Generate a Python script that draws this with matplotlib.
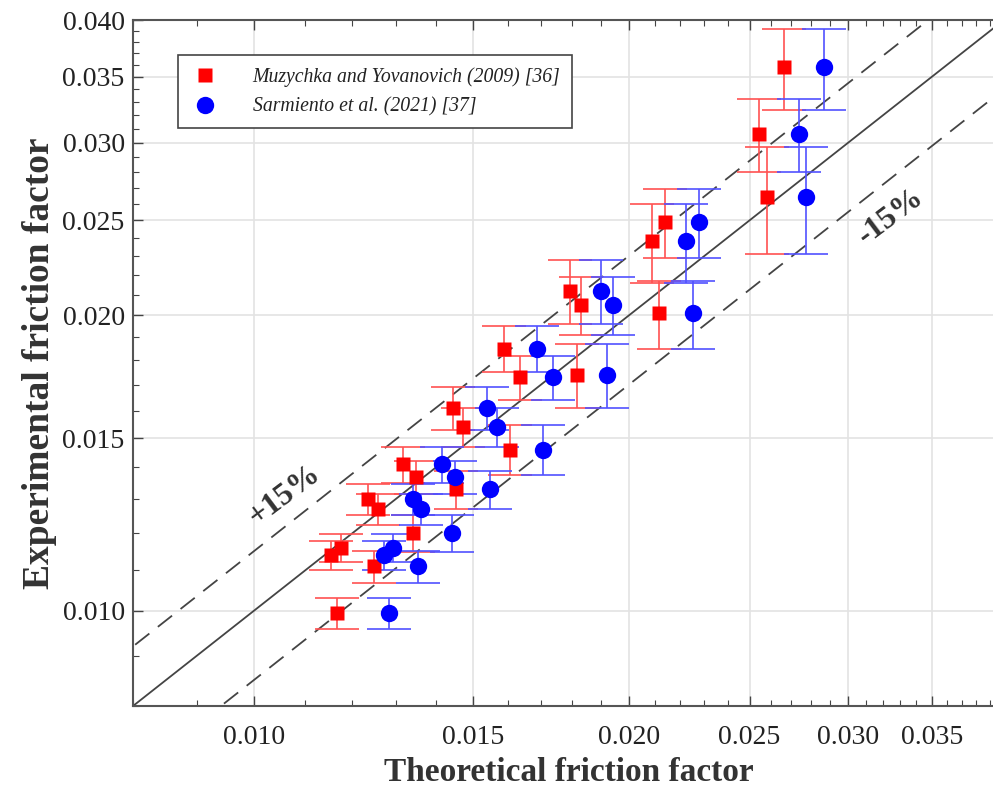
import numpy as np
import matplotlib
matplotlib.use("Agg")
import matplotlib.pyplot as plt
from matplotlib.ticker import FixedLocator, MultipleLocator, FormatStrFormatter

plt.rcParams['font.family'] = ['Liberation Serif', 'DejaVu Serif']

# experimental friction factor (shared by both correlations) and its uncertainty
f_exp = [0.0358, 0.0306, 0.0264, 0.0249, 0.0238, 0.0212, 0.0205, 0.0201,
         0.0185, 0.0173, 0.0174, 0.0161, 0.0154, 0.0146, 0.0141, 0.0137,
         0.0133, 0.0130, 0.0127, 0.0120, 0.0116, 0.0114, 0.0111, 0.00995]
f_err = [0.0034, 0.0026, 0.0033, 0.0020, 0.0022, 0.0016, 0.0014, 0.0016,
         0.0010, 0.0009, 0.0013, 0.0008, 0.0007, 0.00086, 0.0006, 0.00053,
         0.0006, 0.00048, 0.00047, 0.00052, 0.00039, 0.00039, 0.00042, 0.00036]

# theoretical friction factors
f_muz = [0.02664, 0.02543, 0.02581, 0.02138, 0.02087, 0.01793, 0.01830, 0.02114,
         0.01587, 0.01635, 0.01817, 0.01445, 0.01472, 0.01605, 0.01317, 0.01349,
         0.01453, 0.01235, 0.01258, 0.01342, 0.01174, 0.01153, 0.01248, 0.01166]
f_sar = [0.02868, 0.02738, 0.02774, 0.02276, 0.02222, 0.01899, 0.01942, 0.02251,
         0.01687, 0.01738, 0.01920, 0.01538, 0.01567, 0.01706, 0.01416, 0.01450,
         0.01547, 0.01342, 0.01362, 0.01442, 0.01293, 0.01272, 0.01354, 0.01283]

lab_muz = 'Muzychka and Yovanovich (2009) [36]'
lab_sar = 'Sarmiento et al. (2021) [37]'

x_ticks = [0.010, 0.015, 0.020, 0.025, 0.030, 0.035]
y_ticks = [0.010, 0.015, 0.020, 0.025, 0.030, 0.035, 0.040]

fig = plt.figure(figsize=(9.93, 7.92), dpi=100)
ax = fig.add_axes([133/993, 86/792, 860/993, 686/792])
ax.set_xscale('log')
ax.set_yscale('log')
ax.set_xlim(0.008, 0.0392)
ax.set_ylim(0.008, 0.040)

# reference lines
xl = np.array([0.006, 0.05])
ax.plot(xl, xl, color='#444444', lw=1.3, zorder=2)
ax.plot(xl, 1.15 * xl, color='#444444', lw=1.3, ls=(0, (10, 6)), zorder=2)
ax.plot(xl, 0.85 * xl, color='#444444', lw=1.3, ls=(0, (10, 6)), zorder=2)

ax.errorbar(f_muz, f_exp, yerr=f_err, fmt='none', ecolor='#ff5252', elinewidth=1.2,
            capsize=16, capthick=1.2, zorder=3)
ax.errorbar(f_sar, f_exp, yerr=f_err, fmt='none', ecolor='#5252ff', elinewidth=1.2,
            capsize=16, capthick=1.2, zorder=3)
ax.plot(f_muz, f_exp, 's', color='#ff0000', ms=10, mec='none', zorder=4, label=lab_muz)
ax.plot(f_sar, f_exp, 'o', color='#0000ff', ms=12.5, mec='none', zorder=4, label=lab_sar)

ax.text(0.01058, 0.0131, '+15%', rotation=37, ha='center', va='center',
        fontsize=23, fontweight='bold', color='#333333')
ax.text(0.03246, 0.02522, '-15%', rotation=37, ha='center', va='center',
        fontsize=23, fontweight='bold', color='#333333')

ax.xaxis.set_major_locator(FixedLocator(x_ticks))
ax.yaxis.set_major_locator(FixedLocator(y_ticks))
ax.xaxis.set_minor_locator(MultipleLocator(0.001))
ax.yaxis.set_minor_locator(MultipleLocator(0.001))
ax.xaxis.set_major_formatter(FormatStrFormatter('%.3f'))
ax.yaxis.set_major_formatter(FormatStrFormatter('%.3f'))
ax.xaxis.set_minor_formatter(plt.NullFormatter())
ax.yaxis.set_minor_formatter(plt.NullFormatter())
ax.tick_params(which='both', direction='in', top=True, right=False,
               colors='#444444', labelcolor='#222222', labelsize=20)
ax.tick_params(which='major', length=7, width=1)
ax.tick_params(which='minor', length=4, width=0.8)
ax.tick_params(axis='x', pad=14)
ax.tick_params(axis='y', pad=6)
ax.grid(True, which='major', color='#e3e3e3', lw=1.2, zorder=0)
ax.set_axisbelow(True)
for s in ax.spines.values():
    s.set_color('#555555')
    s.set_linewidth(1.5)
ax.spines['right'].set_visible(False)

ax.set_xlabel('Theoretical friction factor', fontsize=24, fontweight='bold', color='#333333',
              va='center')
ax.xaxis.set_label_coords(0.507, -0.0975)
ax.set_ylabel('Experimental friction factor', fontsize=27, fontweight='bold', color='#333333',
              labelpad=4)

leg = ax.legend(loc='upper left', bbox_to_anchor=(0.052, 0.949), borderaxespad=0,
                prop={'style': 'italic', 'size': 14.2}, fancybox=False,
                edgecolor='#444444', framealpha=1, handlelength=1.6, handletextpad=1.6,
                borderpad=0.6, labelspacing=0.55)
leg.get_frame().set_linewidth(1.2)
for t in leg.get_texts():
    t.set_color('#222222')

fig.savefig('out.png', dpi=100)
